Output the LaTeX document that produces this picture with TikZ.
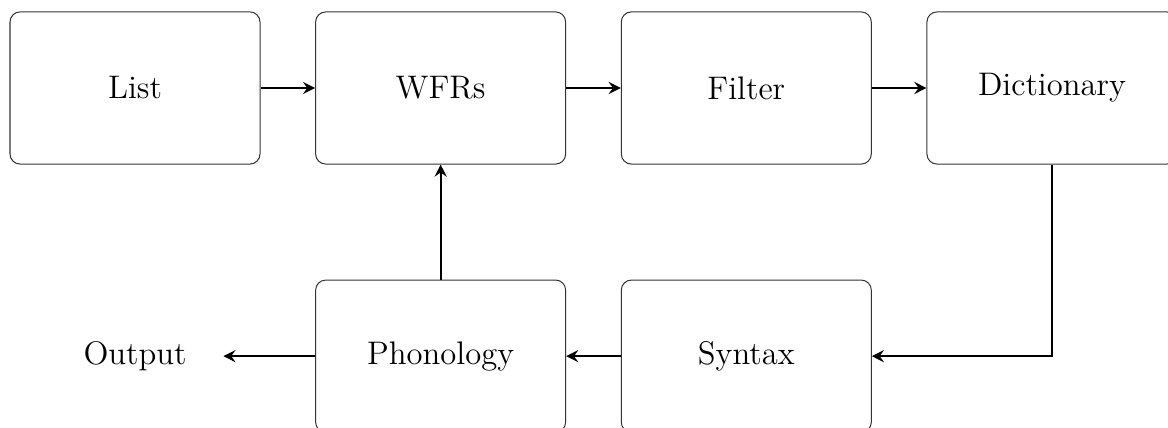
\documentclass[tikz,border=0pt]{standalone}
\usepackage{tikz}
\usetikzlibrary{arrows.meta, positioning}

\begin{document}
\begin{tikzpicture}[
  stage/.style={draw=black!80, rounded corners=4pt, minimum width=3.5cm, minimum height=2.13cm, font=\fontsize{13}{15}\selectfont, align=center},
  flow/.style={-{Stealth[length=1.7mm, width=1.7mm, inset=0.6mm]}, thick},
  node distance=0.77cm and 0.765cm,
]
  \useasboundingbox (-1.89, 1.232) rectangle (14.462, -4.76);
  \node[stage] (list) at (0, 0) {List};
  \node[stage, right=of list] (wfr) {WFRs};
  \node[stage, right=of wfr] (filt) {Filter};
  \node[stage, right=of filt] (dict) {Dictionary};
  \node[stage, below=1.61cm of wfr] (phon) {Phonology};
  \node[stage, right=of phon] (syn) {Syntax};
  \node[font=\fontsize{13}{15}\selectfont, minimum width=2.46cm] (out) at (list |- phon) {Output};

  \draw[flow] (list) -- (wfr);
  \draw[flow] (wfr) -- (filt);
  \draw[flow] (filt) -- (dict);
  \draw[flow] (dict.south) |- (syn.east);
  \draw[flow] (syn) -- (phon);
  \draw[flow] (phon) -- (wfr);
  \draw[flow] (phon) -- (out);
\end{tikzpicture}
\end{document}
